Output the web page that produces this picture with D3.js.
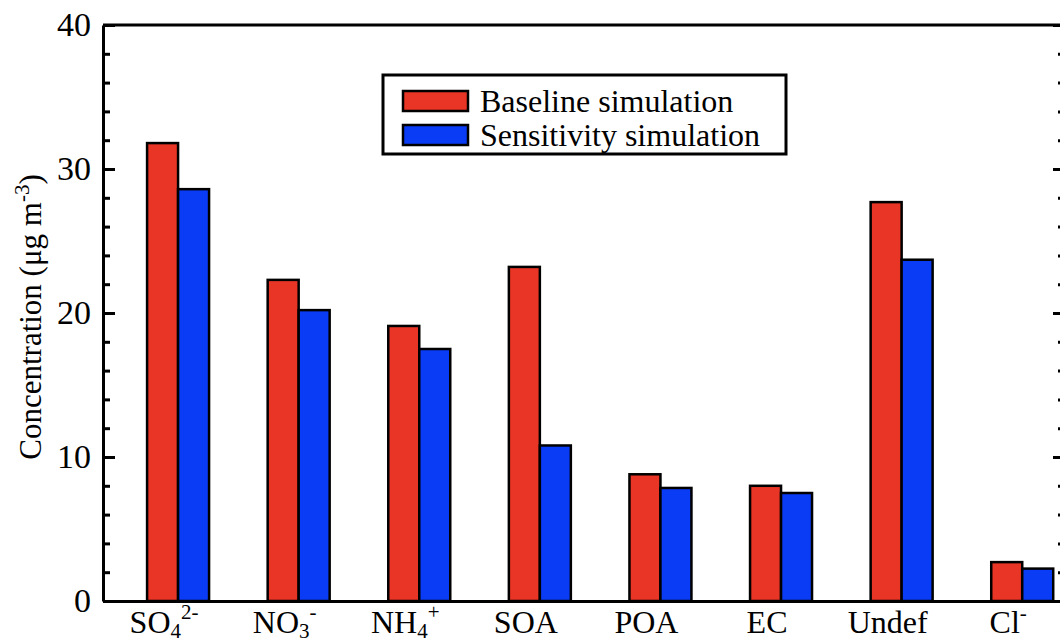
<!DOCTYPE html>
<html lang="en">
<head>
<meta charset="utf-8">
<title>Concentration</title>
<script src="https://cdn.jsdelivr.net/npm/d3@7"></script>
<style>
  body { margin: 0; background: #fff; }
  text { font-family: "Liberation Serif", "Times New Roman", serif; fill: #000; }
  .axis path, .axis line { stroke: #000; stroke-width: 3px; }
  .bar { stroke: #000; stroke-width: 2.5px; }
</style>
</head>
<body>
<div id="chart"></div>
<script>
// categories, each label split into [text, sub, sup]
var categories = ["SO4", "NO3", "NH4", "SOA", "POA", "EC", "Undef", "Cl"];
var tickLabels = [
  ["SO", "4", "2-"],
  ["NO", "3", "-"],
  ["NH", "4", "+"],
  ["SOA", "", ""],
  ["POA", "", ""],
  ["EC", "", ""],
  ["Undef", "", ""],
  ["Cl", "", "-"]
];
var seriesNames = ["Baseline simulation", "Sensitivity simulation"];
var seriesColors = ["#e83526", "#0a3cf6"];
var baseline    = [31.8, 22.3, 19.1, 23.2, 8.8, 8.0, 27.7, 2.7];
var sensitivity = [28.6, 20.2, 17.5, 10.8, 7.85, 7.5, 23.7, 2.25];
var majorTicks = [0, 10, 20, 30, 40];
var minorTicks = [2, 4, 6, 8, 12, 14, 16, 18, 22, 24, 26, 28, 32, 34, 36, 38];

var width = 1060, height = 643;
var mLeft = 103, mRight = 1061, mTop = 25, mBottom = 601;

var svg = d3.select("#chart").append("svg")
    .attr("width", width)
    .attr("height", height);

var x = d3.scaleBand()
    .domain(categories)
    .range([mLeft, mRight])
    .paddingInner(0.486)
    .paddingOuter(0.215)
    .align(0.85);

var xs = d3.scaleBand()
    .domain([0, 1])
    .range([0, x.bandwidth()]);

var y = d3.scaleLinear()
    .domain([0, 40])
    .range([mBottom, mTop]);

var rows = categories.map(function(c, i) {
  return { cat: c, vals: [baseline[i], sensitivity[i]] };
});

// bars
var groups = svg.append("g").selectAll("g")
    .data(rows)
  .enter().append("g")
    .attr("transform", function(d) { return "translate(" + x(d.cat) + ",0)"; });

groups.selectAll("rect")
    .data(function(d) { return d.vals.map(function(v, k) { return { k: k, v: v }; }); })
  .enter().append("rect")
    .attr("class", "bar")
    .attr("x", function(d) { return xs(d.k); })
    .attr("width", xs.bandwidth())
    .attr("y", function(d) { return y(d.v); })
    .attr("height", function(d) { return y(0) - y(d.v); })
    .attr("fill", function(d) { return seriesColors[d.k]; });

// left axis
var yAxis = svg.append("g")
    .attr("class", "axis")
    .attr("transform", "translate(" + mLeft + ",0)")
    .call(d3.axisLeft(y).tickValues(majorTicks).tickSize(-12).tickSizeOuter(0).tickPadding(12));
yAxis.selectAll("text").style("font-size", "34px");

svg.append("g")
    .attr("class", "axis")
    .attr("transform", "translate(" + mLeft + ",0)")
    .call(d3.axisLeft(y).tickValues(minorTicks).tickSize(-7).tickSizeOuter(0).tickFormat(""))
    .select(".domain").remove();

// right axis
svg.append("g")
    .attr("class", "axis")
    .attr("transform", "translate(" + mRight + ",0)")
    .call(d3.axisRight(y).tickValues(majorTicks).tickSize(-8).tickSizeOuter(0).tickFormat(""));

svg.append("g")
    .attr("class", "axis")
    .attr("transform", "translate(" + mRight + ",0)")
    .call(d3.axisRight(y).tickValues(minorTicks).tickSize(-3).tickSizeOuter(0).tickFormat(""))
    .select(".domain").remove();

// top line
svg.append("line")
    .attr("x1", mLeft).attr("x2", mRight)
    .attr("y1", y(40)).attr("y2", y(40))
    .attr("stroke", "#000").attr("stroke-width", 3);

// bottom axis with sub/superscript labels
var xAxis = svg.append("g")
    .attr("class", "axis")
    .attr("transform", "translate(0," + mBottom + ")")
    .call(d3.axisBottom(x).tickSize(0).tickSizeOuter(0).tickFormat(""));
xAxis.selectAll(".tick text").remove();

xAxis.selectAll(".tick").each(function(c, i) {
  var parts = tickLabels[i];
  var t = d3.select(this).append("text")
      .attr("text-anchor", "middle")
      .attr("x", -14)
      .attr("y", 32)
      .style("font-size", "32px");
  t.append("tspan").text(parts[0]);
  if (parts[1]) {
    t.append("tspan").attr("dy", 5).style("font-size", "21px").text(parts[1]);
  }
  if (parts[2]) {
    t.append("tspan").attr("dy", parts[1] ? -19 : -13).style("font-size", "21px").text(parts[2]);
  }
});

// y title
var title = svg.append("text")
    .attr("transform", "translate(41," + ((mTop + mBottom) / 2 + 4) + ") rotate(-90)")
    .attr("text-anchor", "middle")
    .style("font-size", "31px");
title.append("tspan").text("Concentration (\u03bcg m");
title.append("tspan").attr("dy", -12).style("font-size", "21px").text("-3");
title.append("tspan").attr("dy", 12).text(")");

// legend
var legend = svg.append("g").attr("transform", "translate(383,75)");
legend.append("rect")
    .attr("width", 403).attr("height", 79)
    .attr("fill", "#fff").attr("stroke", "#000").attr("stroke-width", 3);

var items = legend.selectAll("g.item")
    .data(seriesNames)
  .enter().append("g")
    .attr("class", "item")
    .attr("transform", function(d, i) { return "translate(20," + (16 + i * 34) + ")"; });

items.append("rect")
    .attr("width", 65).attr("height", 20)
    .attr("fill", function(d, i) { return seriesColors[i]; })
    .attr("stroke", "#000").attr("stroke-width", 2.5);

items.append("text")
    .attr("x", 77)
    .attr("y", 21)
    .style("font-size", "32px")
    .text(function(d) { return d; });
</script>
</body>
</html>
